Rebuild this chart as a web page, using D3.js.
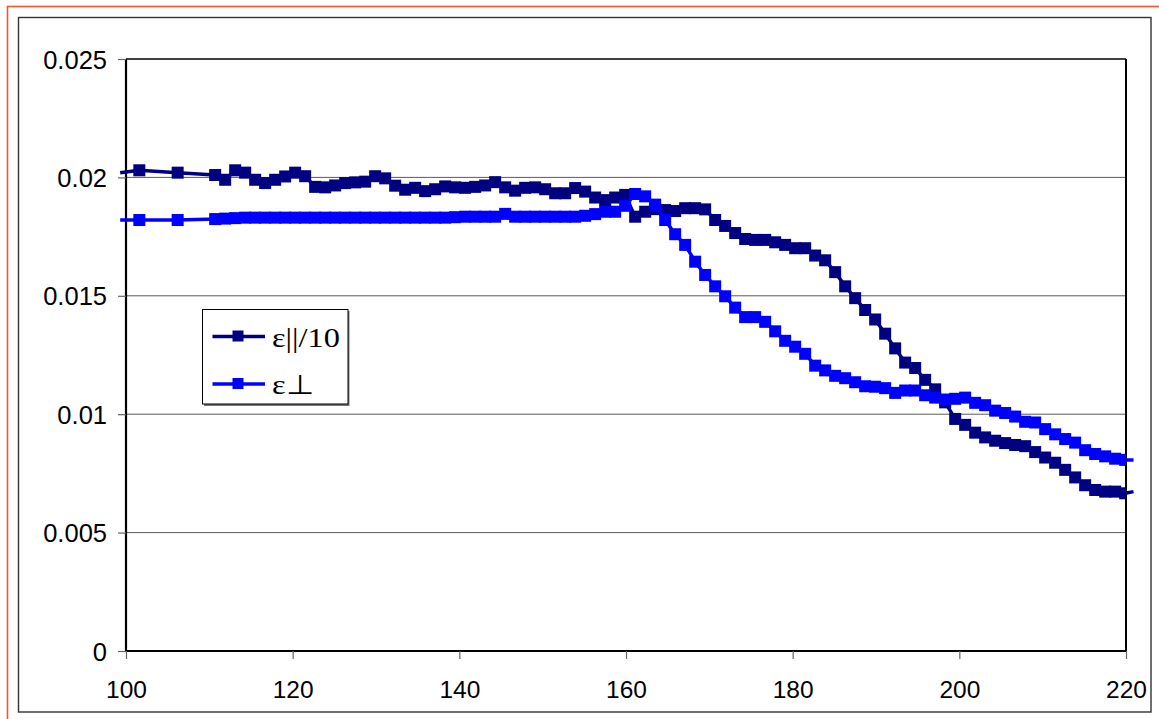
<!DOCTYPE html>
<html>
<head>
<meta charset="utf-8">
<script src="https://cdn.jsdelivr.net/npm/d3@7/dist/d3.min.js"></script>
<style>
  html, body { margin: 0; padding: 0; background: #fff; }
  svg { display: block; }
</style>
</head>
<body>
<svg id="chart" width="1159" height="719"></svg>
<script>
// ---- data ----
const temperature = [99.3, 101.6, 106.2, 110.7, 111.9, 113.1, 114.3, 115.5, 116.7, 117.9, 119.1, 120.3, 121.5, 122.7, 123.9, 125.1, 126.3, 127.5, 128.7, 129.9, 131.1, 132.3, 133.5, 134.7, 135.9, 137.1, 138.3, 139.5, 140.7, 141.9, 143.1, 144.3, 145.5, 146.7, 147.9, 149.1, 150.3, 151.5, 152.7, 153.9, 155.1, 156.3, 157.5, 158.7, 159.9, 161.1, 162.3, 163.5, 164.7, 165.9, 167.1, 168.3, 169.5, 170.7, 171.9, 173.1, 174.3, 175.5, 176.7, 177.9, 179.1, 180.3, 181.5, 182.7, 183.9, 185.1, 186.3, 187.5, 188.7, 189.9, 191.1, 192.3, 193.5, 194.7, 195.9, 197.1, 198.3, 199.5, 200.7, 201.9, 203.1, 204.3, 205.5, 206.7, 207.9, 209.1, 210.3, 211.5, 212.7, 213.9, 215.1, 216.3, 217.5, 218.7, 219.9, 220.9];

const epsParallel10 = [0.0202, 0.0203, 0.0202, 0.0201,
  0.0199, 0.0203, 0.0202, 0.0199, 0.01976, 0.0199, 0.02004, 0.0202, 0.02005, 0.0196,
  0.01958, 0.01966, 0.01976, 0.01979, 0.01982, 0.02005, 0.01996, 0.01965, 0.01948, 0.01956,
  0.01942, 0.0195, 0.01962, 0.01958, 0.01956, 0.0196, 0.01966, 0.0198, 0.01958, 0.01944,
  0.01956, 0.01958, 0.0195, 0.01933, 0.01933, 0.01955, 0.0194, 0.01915, 0.01904, 0.01915,
  0.01926, 0.01834, 0.01855, 0.01866, 0.01862, 0.01858, 0.0187, 0.0187, 0.01865, 0.0182,
  0.01795, 0.01765, 0.0174, 0.01736, 0.01736, 0.01726, 0.01715, 0.01701, 0.01701, 0.0167,
  0.0165, 0.016, 0.0154, 0.0149, 0.0144, 0.014, 0.0134, 0.01278, 0.01218, 0.01195,
  0.01145, 0.01105, 0.0105, 0.0098, 0.00955, 0.00922, 0.00902, 0.00888, 0.00878, 0.0087,
  0.00865, 0.0084, 0.00817, 0.00795, 0.00765, 0.00733, 0.007, 0.0068, 0.00673, 0.00673,
  0.00666, 0.00673];

const epsPerp = [0.0182, 0.0182, 0.0182, 0.01824,
  0.01826, 0.01828, 0.0183, 0.0183, 0.0183, 0.0183, 0.0183, 0.0183, 0.0183, 0.0183,
  0.0183, 0.0183, 0.0183, 0.0183, 0.0183, 0.0183, 0.0183, 0.0183, 0.0183, 0.0183,
  0.0183, 0.0183, 0.0183, 0.01832, 0.01834, 0.01834, 0.01834, 0.01834, 0.01846, 0.01834,
  0.01834, 0.01834, 0.01834, 0.01834, 0.01834, 0.01834, 0.01838, 0.01845, 0.01855, 0.01855,
  0.0188, 0.0193, 0.0192, 0.01885, 0.0182, 0.0176, 0.01715, 0.01644, 0.01588, 0.0154,
  0.01498, 0.0145, 0.0141, 0.0141, 0.0139, 0.0135, 0.0131, 0.01285, 0.01255, 0.01205,
  0.01185, 0.01162, 0.01152, 0.01135, 0.01118, 0.01116, 0.0111, 0.0109, 0.011, 0.011,
  0.0108, 0.0107, 0.01062, 0.01065, 0.0107, 0.01048, 0.01038, 0.01015, 0.01005, 0.0099,
  0.00968, 0.00965, 0.00937, 0.00915, 0.00895, 0.0088, 0.00848, 0.00832, 0.00822, 0.00812,
  0.00807, 0.00807];

const seriesNames = ["ε||/10", "ε⊥"];
const seriesColors = ["#000080", "#0000ff"];
const xTicks = [100, 120, 140, 160, 180, 200, 220];
const yTicks = [0, 0.005, 0.01, 0.015, 0.02, 0.025];
const yTickLabels = ["0", "0.005", "0.01", "0.015", "0.02", "0.025"];

// ---- layout ----
const svg = d3.select("#chart");
const L = 126, R = 1126, T = 59, B = 651;
const x = d3.scaleLinear().domain([100, 220]).range([L, R]);
const y = d3.scaleLinear().domain([0, 0.025]).range([B, T]);

// outer frames (orange one runs off the right/bottom edges)
svg.append("rect").attr("x", 7.5).attr("y", 6.5).attr("width", 1200).attr("height", 760)
  .attr("fill", "none").attr("stroke", "#ff5027").attr("stroke-width", 1.6);
svg.append("rect").attr("x", 18.5).attr("y", 17.5).attr("width", 1132.5).attr("height", 694.5)
  .attr("fill", "none").attr("stroke", "#333").attr("stroke-width", 1.4);

// gridlines
svg.append("g").selectAll("line").data(yTicks.filter(v => v > 0 && v < 0.025)).join("line")
  .attr("x1", L).attr("x2", R).attr("y1", d => y(d)).attr("y2", d => y(d))
  .attr("stroke", "#5a5a5a").attr("stroke-width", 1);

// plot border top & right
svg.append("line").attr("x1", L).attr("x2", R).attr("y1", T).attr("y2", T)
  .attr("stroke", "#000").attr("stroke-width", 1.5);
svg.append("line").attr("x1", R).attr("x2", R).attr("y1", T).attr("y2", B)
  .attr("stroke", "#000").attr("stroke-width", 2);

// axes
const yAxis = d3.axisLeft(y).tickValues(yTicks).tickSize(8).tickPadding(11)
  .tickFormat((d, i) => yTickLabels[i]);
const xAxis = d3.axisBottom(x).tickValues(xTicks).tickSize(8).tickPadding(22)
  .tickFormat(d3.format("d"));

const gy = svg.append("g").attr("transform", `translate(${L},0)`).call(yAxis);
const gx = svg.append("g").attr("transform", `translate(0,${B})`).call(xAxis);
[gx, gy].forEach(g => {
  g.select(".domain").attr("stroke", "#000").attr("stroke-width", 2.2);
  g.selectAll(".tick line").attr("stroke", "#666").attr("stroke-width", 1.2);
  g.selectAll(".tick text").attr("fill", "#000")
    .style("font-family", "'Liberation Sans', Arial, sans-serif").style("font-size", "24.5px");
});
gy.selectAll(".tick text").style("font-size", "25.5px").attr("dy", "0.36em");
gy.select(".domain").attr("d", `M0,${T}V${B}`);
gx.select(".domain").attr("d", `M${L},0H${R}`);

// clips
const defs = svg.append("defs");
defs.append("clipPath").attr("id", "clipLine").append("rect")
  .attr("x", L - 7).attr("y", T).attr("width", R - L + 15).attr("height", B - T);
defs.append("clipPath").attr("id", "clipMark").append("rect")
  .attr("x", L).attr("y", T).attr("width", R - L).attr("height", B - T);

const series = [epsParallel10, epsPerp];
const line = d3.line().x(d => x(d[0])).y(d => y(d[1]));
const MS = 12;

series.forEach((vals, si) => {
  const pts = temperature.map((t, i) => [t, vals[i]]);
  svg.append("path").datum(pts).attr("clip-path", "url(#clipLine)")
    .attr("d", line).attr("fill", "none").attr("stroke", seriesColors[si])
    .attr("stroke-width", 3.5).attr("stroke-linejoin", "round");
  svg.append("g").attr("clip-path", "url(#clipMark)").selectAll("rect").data(pts).join("rect")
    .attr("x", d => x(d[0]) - MS / 2).attr("y", d => y(d[1]) - MS / 2)
    .attr("width", MS).attr("height", MS).attr("fill", seriesColors[si]);
});

// legend
const lg = svg.append("g");
lg.append("rect").attr("x", 204).attr("y", 311).attr("width", 145.5).attr("height", 95).attr("fill", "#777");
lg.append("rect").attr("x", 202.5).attr("y", 309.5).attr("width", 145.5).attr("height", 94.5)
  .attr("fill", "#fff").attr("stroke", "#000").attr("stroke-width", 1);
const legY = [336.5, 384];
seriesNames.forEach((name, i) => {
  lg.append("line").attr("x1", 212.5).attr("x2", 265).attr("y1", legY[i]).attr("y2", legY[i])
    .attr("stroke", seriesColors[i]).attr("stroke-width", 3.5);
  lg.append("rect").attr("x", 238.5 - MS / 2).attr("y", legY[i] - MS / 2)
    .attr("width", 11).attr("height", 11).attr("fill", seriesColors[i]);
  lg.append("text")
    .attr("transform", `translate(272,${legY[i] + 10}) scale(1.2,1)`)
    .style("font-family", "'Liberation Serif', 'Times New Roman', serif").style("font-size", "27px")
    .attr("fill", "#000").text(name);
});
</script>
</body>
</html>
